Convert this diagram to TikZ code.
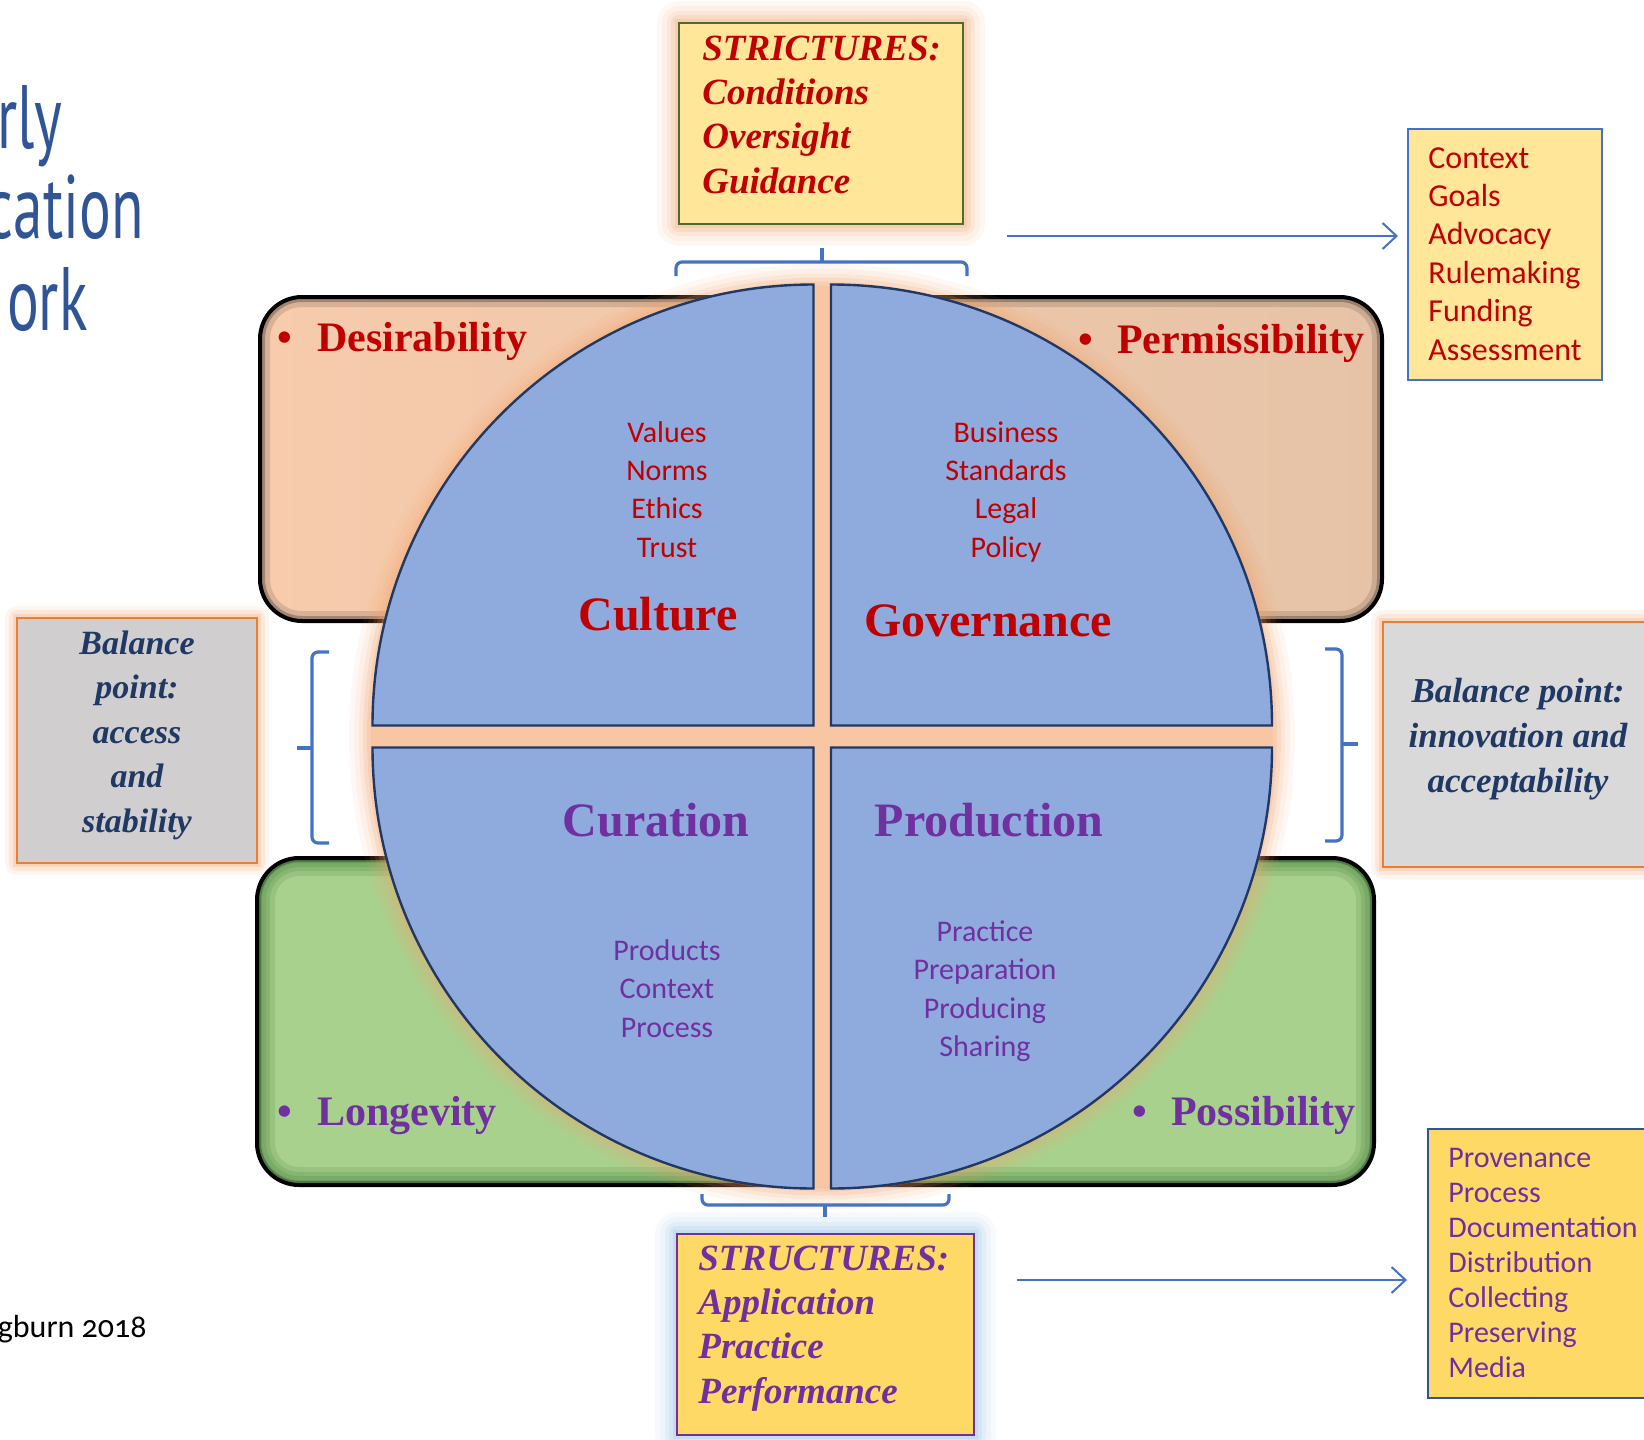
\documentclass[tikz,border=0pt]{standalone}
\usepackage{fontspec}
\setmainfont{Liberation Serif}
\newfontfamily\bodyfont{Carlito}
\newfontfamily\creditfont[Numbers=OldStyle]{Carlito}
\newfontfamily\titlefont[FakeStretch=0.66]{PT Sans}
\usetikzlibrary{arrows.meta}

\definecolor{strictRed}{HTML}{C00000}
\definecolor{structPurple}{HTML}{7030A0}
\definecolor{balanceNavy}{HTML}{203864}
\definecolor{quadBlue}{HTML}{8FAADC}
\definecolor{quadLine}{HTML}{1F3864}
\definecolor{braceBlue}{HTML}{4472C4}
\definecolor{titleBlue}{HTML}{2F5597}
\definecolor{paleYellow}{HTML}{FFE699}
\definecolor{deepYellow}{HTML}{FFD966}
\definecolor{oliveLine}{HTML}{4E6B30}
\definecolor{peach}{HTML}{F8C6A2}
\definecolor{glowOrange}{HTML}{F4A36A}
\definecolor{glowBlue}{HTML}{9DC3E6}
\definecolor{balanceOrange}{HTML}{ED7D31}
\definecolor{greyLeft}{HTML}{D0CECE}
\definecolor{greyRight}{HTML}{D9D9D9}
\definecolor{bandGreen}{HTML}{A9D18E}

\begin{document}
\begin{tikzpicture}[x=0.5pt, y=-0.5pt, font=\bodyfont]
	\tikzstyle{orangeGlow}=[preaction={draw=glowOrange, line width=22pt, opacity=.07, line join=round}, preaction={draw=glowOrange, line width=17pt, opacity=.09, line join=round}, preaction={draw=glowOrange, line width=12pt, opacity=.12, line join=round}, preaction={draw=glowOrange, line width=8pt, opacity=.16, line join=round}, preaction={draw=glowOrange, line width=4pt, opacity=.22}]
	\tikzstyle{thinGlow}=[preaction={draw=glowOrange, line width=12pt, opacity=.1, line join=round}, preaction={draw=glowOrange, line width=8pt, opacity=.15, line join=round}, preaction={draw=glowOrange, line width=4pt, opacity=.25}]
	\tikzstyle{blueGlow}=[preaction={draw=glowBlue, line width=22pt, opacity=.08, line join=round}, preaction={draw=glowBlue, line width=17pt, opacity=.1, line join=round}, preaction={draw=glowBlue, line width=12pt, opacity=.14, line join=round}, preaction={draw=glowBlue, line width=8pt, opacity=.18, line join=round}, preaction={draw=glowBlue, line width=4pt, opacity=.25}]
	\tikzstyle{boxStyle}=[shape = rectangle, inner sep = 0pt, outer sep = 0pt, line width = 1pt]
	\tikzstyle{quadStyle}=[draw = quadLine, line width = 1.2pt, fill = quadBlue]
	\tikzstyle{braceStyle}=[draw = braceBlue, line width = 1.6pt, rounded corners = 3pt]
	\tikzstyle{flowArrow}=[draw = braceBlue, line width = 1pt, -{Straight Barb[length=7pt, width=13pt]}]
	\tikzstyle{strictText}=[anchor = base west, inner sep = 0pt, text = strictRed, font = \rmfamily\fontsize{18.5}{20}\selectfont\bfseries\itshape]
	\tikzstyle{structText}=[strictText, text = structPurple]
	\tikzstyle{balanceText}=[anchor = base, inner sep = 0pt, text = balanceNavy, font = \rmfamily\fontsize{17.5}{20}\selectfont\bfseries\itshape]
	\tikzstyle{bulletText}=[anchor = base west, inner sep = 0pt, font = \rmfamily\fontsize{21}{24}\selectfont\bfseries]
	\tikzstyle{quadTitle}=[anchor = base, inner sep = 0pt, font = \rmfamily\fontsize{24}{28}\selectfont\bfseries]
	\tikzstyle{listText}=[anchor = base, inner sep = 0pt, font = \bodyfont\fontsize{15}{18}\selectfont]
	\tikzstyle{sideList}=[anchor = base west, inner sep = 0pt, font = \bodyfont\fontsize{16}{18}\selectfont]
	\tikzstyle{titleText}=[anchor = base east, inner sep = 0pt, text = titleBlue, font = \titlefont\fontsize{45}{50}\selectfont]
	\useasboundingbox (0,0) rectangle (1644,1440);
	\fill[white] (0,0) rectangle (1644,1440);
	\node[titleText] (titleA) at (63,148) {rly};
	\node[titleText] (titleB) at (144,238) {cation};
	\node[titleText] (titleC) at (88,330) {ork};
	\node[anchor = base east, inner sep = 0pt, font = \creditfont\fontsize{16}{18}\selectfont] (credit) at (147,1337) {gburn 2018};
	\shade[left color = {rgb,255:red,247;green,203;blue,172}, right color = {rgb,255:red,230;green,195;blue,167}, rounded corners = 21pt] (260,297) rectangle (1382,621);
	\begin{scope}
		\clip[rounded corners = 21pt] (260,297) rectangle (1382,621);
		\draw[black, opacity = .12, line width = 10pt, rounded corners = 21pt] (260,297) rectangle (1382,621);
		\draw[black, opacity = .25, line width = 5pt, rounded corners = 21pt] (260,297) rectangle (1382,621);
	\end{scope}
	\draw[line width = 2pt, rounded corners = 21pt] (260,297) rectangle (1382,621);
	\fill[bandGreen, rounded corners = 21pt] (257,858) rectangle (1374,1185);
	\begin{scope}
		\clip[rounded corners = 21pt] (257,858) rectangle (1374,1185);
		\foreach \lw in {18,13,9,5}
			\draw[green!30!black, opacity = .1, line width = \lw pt, rounded corners = 21pt] (257,858) rectangle (1374,1185);
		\draw[black, opacity = .25, line width = 4pt, rounded corners = 21pt] (257,858) rectangle (1374,1185);
	\end{scope}
	\draw[line width = 2pt, rounded corners = 21pt] (257,858) rectangle (1374,1185);
	\fill[peach, orangeGlow] (822,736.5) circle[radius = 451];
	\draw[quadStyle] (813.5,725.5) -- ++(0,-441) arc[start angle = -90, end angle = -180, radius = 441] -- cycle;
	\draw[quadStyle] (831,725.5) -- ++(0,-441) arc[start angle = -90, end angle = 0, radius = 441] -- cycle;
	\draw[quadStyle] (813.5,747.5) -- ++(0,441) arc[start angle = 90, end angle = 180, radius = 441] -- cycle;
	\draw[quadStyle] (831,747.5) -- ++(0,441) arc[start angle = 90, end angle = 0, radius = 441] -- cycle;
	\node[bulletText, text = strictRed] (desire) at (277,351) {\textbullet\hspace{12.5pt}Desirability};
	\node[bulletText, text = strictRed] (permit) at (1078,353) {\textbullet\hspace{12pt}Permissibility};
	\node[bulletText, text = structPurple] (longev) at (277,1125) {\textbullet\hspace{12.5pt}Longevity};
	\node[bulletText, text = structPurple] (possib) at (1132,1125) {\textbullet\hspace{12pt}Possibility};
	\node[quadTitle, text = strictRed] (culture) at (658,630) {Culture};
	\node[quadTitle, text = strictRed] (governance) at (988,636) {Governance};
	\node[quadTitle, text = structPurple] (curation) at (656,836) {Curation};
	\node[quadTitle, text = structPurple] (production) at (989,836) {Production};
	\foreach \w [count=\i] in {Values,Norms,Ethics,Trust}
		\node[listText, text = strictRed] (cult\i) at (667,{442+38.4*(\i-1)}) {\w};
	\foreach \w [count=\i] in {Business,Standards,Legal,Policy}
		\node[listText, text = strictRed] (gov\i) at (1006,{442+38.4*(\i-1)}) {\w};
	\foreach \w [count=\i] in {Products,Context,Process}
		\node[listText, text = structPurple] (cur\i) at (667,{960+38.5*(\i-1)}) {\w};
	\foreach \w [count=\i] in {Practice,Preparation,Producing,Sharing}
		\node[listText, text = structPurple] (prod\i) at (985,{941+38.5*(\i-1)}) {\w};
	\node[boxStyle, draw = oliveLine, fill = paleYellow, minimum width = 142pt, minimum height = 100.5pt, orangeGlow] (strictBox) at (821,123.5) {};
	\foreach \w [count=\i] in {STRICTURES:,Conditions,Oversight,Guidance}
		\node[strictText] (strict\i) at (702,{60+44.4*(\i-1)}) {\w};
	\node[boxStyle, draw = structPurple, fill = deepYellow, minimum width = 148.5pt, minimum height = 100.5pt, blueGlow] (structBox) at (825.5,1334.5) {};
	\foreach \w [count=\i] in {STRUCTURES:,Application,Practice,Performance}
		\node[structText] (struct\i) at (698,{1270+44.4*(\i-1)}) {\w};
	\node[boxStyle, draw = braceBlue, fill = paleYellow, minimum width = 97pt, minimum height = 125.5pt] (ctxBox) at (1505,254.5) {};
	\foreach \w [count=\i] in {Context,Goals,Advocacy,Rulemaking,Funding,Assessment}
		\node[sideList, text = strictRed] (ctx\i) at (1428,{168+38.4*(\i-1)}) {\w};
	\node[boxStyle, draw = titleBlue, fill = deepYellow, minimum width = 116pt, minimum height = 134.5pt] (provBox) at (1544,1263.5) {};
	\foreach \w [count=\i] in {Provenance,Process,Documentation,Distribution,Collecting,Preserving,Media}
		\node[sideList, text = structPurple, font = \bodyfont\fontsize{15}{18}\selectfont] (prov\i) at (1448,{1167+35.1*(\i-1)}) {\w};
	\node[boxStyle, draw = balanceOrange, fill = greyLeft, minimum width = 120pt, minimum height = 122.5pt, thinGlow] (balLeft) at (137,740.5) {};
	\foreach \w [count=\i] in {Balance,point:,access,and,stability}
		\node[balanceText, font = \rmfamily\fontsize{17}{20}\selectfont\bfseries\itshape] (balL\i) at (137,{654+44.5*(\i-1)}) {\w};
	\node[boxStyle, draw = balanceOrange, fill = greyRight, minimum width = 143.5pt, minimum height = 122.5pt, thinGlow] (balRight) at (1526.5,744.5) {};
	\foreach \w [count=\i] in {Balance point:,innovation and,acceptability}
		\node[balanceText] (balR\i) at (1518,{702+45*(\i-1)}) {\w};
	\draw[braceStyle] (676,276) -- (676,262) -- (967,262) -- (967,276);
	\draw[braceStyle] (822,262) -- (822,248);
	\draw[braceStyle] (702,1194) -- (702,1205) -- (949,1205) -- (949,1194);
	\draw[braceStyle] (825,1205) -- (825,1217);
	\draw[braceStyle] (329,652) -- (312,652) -- (312,843) -- (329,843);
	\draw[braceStyle] (312,748) -- (297,748);
	\draw[braceStyle] (1325,649) -- (1342,649) -- (1342,841) -- (1325,841);
	\draw[braceStyle] (1342,744) -- (1358,744);
	\coordinate (ctxTail) at (1007,236);
	\coordinate (provTail) at (1017,1280);
	\draw[flowArrow, shorten >= 5pt] (ctxTail) -- (ctxTail -| ctxBox.west);
	\draw[flowArrow, shorten >= 10.5pt] (provTail) -- (provTail -| provBox.west);
\end{tikzpicture}
\end{document}
